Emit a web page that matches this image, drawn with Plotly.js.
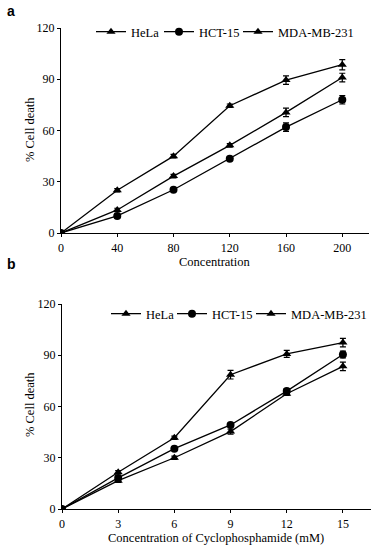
<!DOCTYPE html>
<html>
<head>
<meta charset="utf-8">
<script src="https://cdn.plot.ly/plotly-3.0.1.min.js"></script>
<style>html,body{margin:0;padding:0;background:#fff;}#chart{width:379px;height:550px;}</style>
</head>
<body>
<div id="chart"></div>
<script>
// Panel a
const concA = [0, 40, 80, 120, 160, 200];
const helaA = [0, 25, 45, 74.5, 89.5, 98.5];
const helaAErr = [0, 1, 1, 1, 2.5, 3];
const hctA = [0, 10, 25.3, 43.5, 62, 78];
const hctAErr = [0, 1, 1, 1, 2.5, 2.5];
const mdaA = [0, 13.5, 33.3, 51.3, 70.6, 91];
const mdaAErr = [0, 1, 1, 1, 2.5, 2.5];
// Panel b
const concB = [0, 3, 6, 9, 12, 15];
const helaB = [0, 21.5, 41.7, 78.6, 90.8, 97.4];
const helaBErr = [0, 1, 1, 2.5, 2, 2.5];
const hctB = [0, 18.2, 35.3, 49.2, 69, 90.4];
const hctBErr = [0, 1, 1, 1, 1.5, 2];
const mdaB = [0, 16.6, 30, 45.3, 67.5, 83.5];
const mdaBErr = [0, 1, 1, 1.5, 1, 2.5];
const seriesNames = ['HeLa', 'HCT-15', 'MDA-MB-231'];
const tickA = [0, 40, 80, 120, 160, 200];
const tickB = [0, 3, 6, 9, 12, 15];
const tickY = [0, 30, 60, 90, 120];
const yTitle = '% Cell death';
const xTitleA = 'Concentration';
const xTitleB = 'Concentration of Cyclophosphamide (mM)';

function tr(x, y, err, name, sym, xa, ya, leg) {
  return {
    x: x, y: y, name: name, type: 'scatter', mode: 'lines+markers',
    xaxis: xa, yaxis: ya, legend: leg,
    line: {color: '#000', width: 1.3},
    marker: {symbol: sym, size: 8, color: '#000'},
    error_y: {type: 'data', array: err, visible: true, color: '#000', thickness: 1.2, width: 3}
  };
}

const data = [
  tr(concA, helaA, helaAErr, seriesNames[0], 'triangle-up', 'x', 'y', 'legend'),
  tr(concA, hctA, hctAErr, seriesNames[1], 'circle', 'x', 'y', 'legend2'),
  tr(concA, mdaA, mdaAErr, seriesNames[2], 'triangle-up', 'x', 'y', 'legend3'),
  tr(concB, helaB, helaBErr, seriesNames[0], 'triangle-up', 'x2', 'y2', 'legend4'),
  tr(concB, hctB, hctBErr, seriesNames[1], 'circle', 'x2', 'y2', 'legend5'),
  tr(concB, mdaB, mdaBErr, seriesNames[2], 'triangle-up', 'x2', 'y2', 'legend6')
];

const SERIF = "'Liberation Serif', 'Times New Roman', Times, serif";
const tickFont = {family: SERIF, size: 12, color: '#000'};
const titleFont = {family: SERIF, size: 12.5, color: '#000'};

function xax(range, ticks, anchor, dom) {
  return {
    domain: dom, range: range, anchor: anchor, tickvals: ticks, automargin: false,
    showline: true, linecolor: '#000', linewidth: 1.2,
    ticks: 'outside', ticklen: 3, tickwidth: 1, tickcolor: '#000',
    showgrid: false, zeroline: false, tickfont: tickFont
  };
}
function yax(dom, anchor) {
  return {
    domain: dom, range: [0, 120], anchor: anchor, tickvals: tickY, automargin: false,
    showline: true, linecolor: '#000', linewidth: 1.2,
    ticks: 'outside', ticklen: 3, tickwidth: 1, tickcolor: '#000',
    showgrid: false, zeroline: false, tickfont: tickFont
  };
}

const legFont = {family: SERIF, size: 12.5, color: '#000'};
function leg(px, py) {
  return {orientation: 'h', x: px/379, y: 1 - py/550, xanchor: 'left', yanchor: 'middle',
          font: legFont, bgcolor: 'rgba(0,0,0,0)', borderwidth: 0};
}
function ann(text, px, py, size, angle, fam) {
  return {text: text, x: px/379, y: 1 - py/550, xref: 'paper', yref: 'paper',
          xanchor: 'center', yanchor: 'middle', textangle: angle || 0, showarrow: false,
          font: {family: fam || SERIF, size: size, color: '#000'}};
}

const SANS = "'Liberation Sans', Arial, sans-serif";
const layout = {
  width: 379, height: 550,
  margin: {l: 0, r: 0, t: 0, b: 0, autoexpand: false},
  paper_bgcolor: '#fff', plot_bgcolor: '#fff',
  showlegend: true,
  xaxis: xax([0, 219], tickA, 'y', [61/379, 369/379]),
  yaxis: yax([1 - 233/550, 1 - 28/550], 'x'),
  xaxis2: xax([0, 16.5], tickB, 'y2', [62/379, 371/379]),
  yaxis2: yax([1 - 509/550, 1 - 304/550], 'x2'),
  legend: leg(91, 32), legend2: leg(159, 32), legend3: leg(238, 32),
  legend4: leg(106, 314), legend5: leg(172, 314), legend6: leg(251, 314),
  annotations: [
    ann('<b>a</b>', 11, 11, 14, 0, SANS),
    ann('<b>b</b>', 11, 264, 14, 0, SANS),
    ann(yTitle, 30, 130, 12.5, -90),
    ann(yTitle, 30, 405, 12.5, -90),
    ann(xTitleA, 215, 261.5, 12.5),
    ann(xTitleB, 216, 538, 12.5)
  ]
};

Plotly.newPlot('chart', data, layout, {displayModeBar: false, staticPlot: true});
</script>
</body>
</html>
